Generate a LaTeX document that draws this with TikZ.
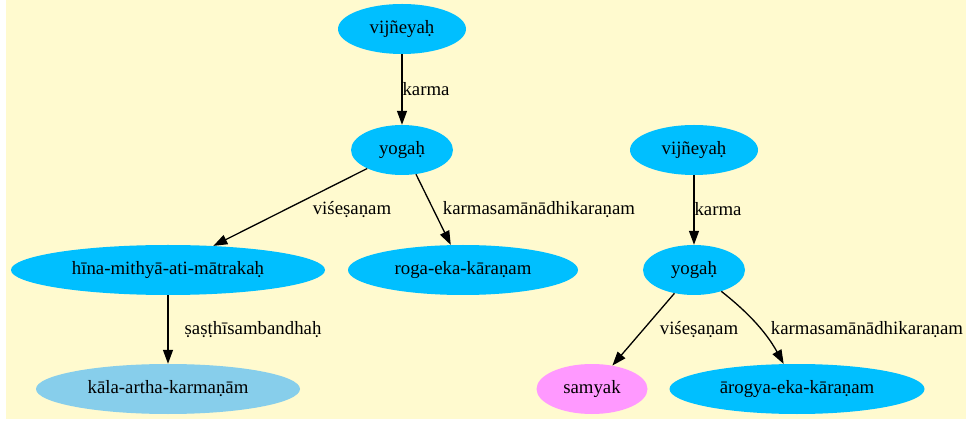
\documentclass[tikz,border=0pt]{standalone}
\usepackage{fontspec}
\setmainfont{Liberation Serif}
\usetikzlibrary{shapes.geometric,arrows.meta}
\definecolor{bgyellow}{RGB}{255,250,207}
\definecolor{dsb}{RGB}{0,191,255}
\definecolor{skyb}{RGB}{135,206,235}
\definecolor{pinkv}{RGB}{255,153,255}
\tikzset{
  nd/.style={ellipse, draw=none, fill=dsb, inner sep=0pt, minimum height=50pt, font=\fontsize{18.8}{22}\selectfont},
  lbl/.style={inner sep=0pt, font=\fontsize{18.8}{22}\selectfont},
  arr/.style={draw=black, line width=1.3pt, -{Triangle[length=14pt,width=10pt]}}
}
\begin{document}
\begin{tikzpicture}[x=1pt,y=-1pt]
\useasboundingbox (0,0) rectangle (966,427);
\fill[bgyellow] (6,0) rectangle (966,419);
% left tree
\node[nd, minimum width=128pt] (v1) at (402,29) {vijñeyaḥ};
\node[nd, minimum width=102pt] (y1) at (402,150) {yogaḥ};
\node[nd, minimum width=314pt] (h1) at (168,270) {hīna-mithyā-ati-mātrakaḥ};
\node[nd, minimum width=230pt] (r1) at (463,270) {roga-eka-kāraṇam};
\node[nd, minimum width=264pt, fill=skyb] (k1) at (168,389) {kāla-artha-karmaṇām};
% right tree
\node[nd, minimum width=128pt] (v2) at (694,150) {vijñeyaḥ};
\node[nd, minimum width=102pt] (y2) at (694,270) {yogaḥ};
\node[nd, minimum width=111pt, fill=pinkv] (s2) at (592,389) {samyak};
\node[nd, minimum width=255pt] (a2) at (797,389) {ārogya-eka-kāraṇam};
% edges
\draw[arr] (v1) -- (y1);
\draw[arr] (y1.208) -- (h1.28);
\draw[arr] (y1.-60) -- (r1.116);
\draw[arr] (h1) -- (k1);
\draw[arr] (v2) -- (y2);
\draw[arr] (y2.230) -- (s2.49);
\draw[arr] (y2.-38) .. controls (745,310) and (765,330) .. (a2.118);
% labels
\node[lbl] (l1) at (426,89) {karma};
\node[lbl] (l2) at (352,210) {viśeṣaṇam};
\node[lbl] (l3) at (539,210) {karmasamānādhikaraṇam};
\node[lbl] (l4) at (253,330) {ṣaṣṭhīsambandhaḥ};
\node[lbl] (l5) at (718,209) {karma};
\node[lbl] (l6) at (699,330) {viśeṣaṇam};
\node[lbl] (l7) at (867,330) {karmasamānādhikaraṇam};
\end{tikzpicture}
\end{document}
